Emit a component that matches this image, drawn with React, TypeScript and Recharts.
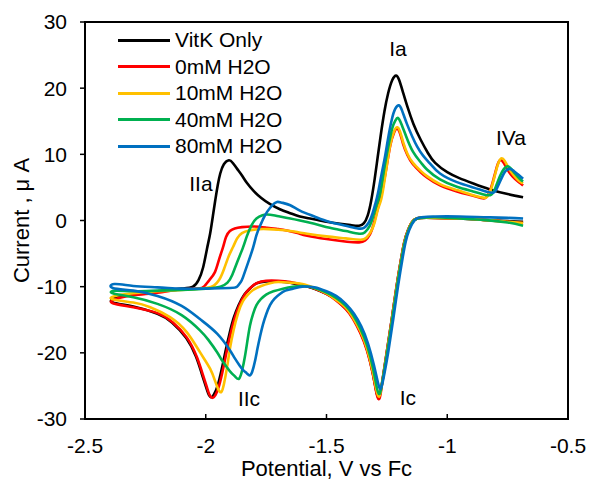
import React from "react";
import {
  LineChart,
  Line,
  XAxis,
  YAxis,
  Legend,
  ReferenceArea,
  ReferenceDot,
} from "recharts";

type Pt = [number, number]; // [potential V vs Fc, current µA]

// each sweep starts at the right, runs cathodic to -2.385 V, then back anodic
const vitkOnly: Pt[] = [
  [-0.686, -0.2], [-0.75, -0.1], [-0.85, 0.1], [-0.95, 0.3], [-1.05, 0.4], [-1.11, 0.4], [-1.14, 0.0],
  [-1.163, -1.5], [-1.178, -3.3], [-1.19, -5.6], [-1.21, -10.0], [-1.23, -15.0], [-1.25, -19.8],
  [-1.266, -23.6], [-1.277, -26.0], [-1.285, -26.8], [-1.295, -25.6], [-1.31, -22.8], [-1.332, -19.5],
  [-1.36, -16.8], [-1.39, -14.7], [-1.42, -13.3], [-1.46, -12.0], [-1.5, -11.1], [-1.55, -10.3],
  [-1.6, -9.8], [-1.65, -9.4], [-1.7, -9.2], [-1.75, -9.2], [-1.79, -9.5], [-1.815, -10.2],
  [-1.84, -11.2], [-1.864, -12.8], [-1.884, -14.7], [-1.901, -17.0], [-1.916, -19.4], [-1.934, -22.5],
  [-1.951, -25.0], [-1.966, -26.3], [-1.978, -26.7], [-1.99, -26.1], [-2.002, -24.8], [-2.017, -23.1],
  [-2.04, -20.6], [-2.08, -17.8], [-2.14, -15.4], [-2.2, -14.1], [-2.3, -13.0], [-2.385, -12.4],
  [-2.375, -11.7], [-2.3, -11.2], [-2.2, -10.7], [-2.1, -10.3], [-2.053, -10.0], [-2.03, -9.0],
  [-2.011, -7.1], [-1.995, -4.3], [-1.982, -2.0], [-1.97, 0.8], [-1.96, 3.2], [-1.95, 5.4],
  [-1.94, 7.1], [-1.925, 8.5], [-1.904, 9.1], [-1.888, 8.7], [-1.87, 7.8], [-1.85, 6.8],
  [-1.83, 5.7], [-1.8, 4.4], [-1.77, 3.4], [-1.735, 2.5], [-1.693, 1.7], [-1.65, 1.1], [-1.61, 0.6],
  [-1.568, 0.3], [-1.5, -0.2], [-1.444, -0.5], [-1.4, -0.7], [-1.365, -0.8], [-1.345, -0.4],
  [-1.33, 0.7], [-1.315, 3.0], [-1.3, 6.4], [-1.288, 9.6], [-1.275, 13.0], [-1.26, 16.5],
  [-1.245, 19.2], [-1.228, 21.2], [-1.212, 21.9], [-1.2, 21.3], [-1.185, 19.6], [-1.165, 17.2],
  [-1.14, 14.6], [-1.11, 12.2], [-1.08, 10.2], [-1.05, 8.7], [-1.0, 7.3], [-0.95, 6.4],
  [-0.893, 5.6], [-0.823, 4.7], [-0.75, 4.0], [-0.686, 3.5],
];

const water0: Pt[] = [
  [-0.686, -0.4], [-0.75, -0.2], [-0.85, 0.1], [-0.95, 0.3], [-1.05, 0.4], [-1.11, 0.4], [-1.14, 0.0],
  [-1.163, -1.5], [-1.178, -3.3], [-1.19, -5.6], [-1.21, -10.0], [-1.23, -15.0], [-1.25, -19.8],
  [-1.266, -23.7], [-1.276, -26.2], [-1.284, -27.0], [-1.294, -25.9], [-1.308, -23.2], [-1.332, -19.7],
  [-1.36, -17.0], [-1.39, -14.9], [-1.42, -13.4], [-1.46, -12.1], [-1.5, -11.1], [-1.55, -10.3],
  [-1.6, -9.7], [-1.65, -9.3], [-1.7, -9.1], [-1.75, -9.1], [-1.785, -9.4], [-1.81, -10.0],
  [-1.835, -11.0], [-1.858, -12.6], [-1.878, -14.5], [-1.895, -16.8], [-1.91, -19.2], [-1.928, -22.4],
  [-1.945, -25.0], [-1.96, -26.4], [-1.972, -26.8], [-1.985, -26.3], [-1.997, -25.0], [-2.012, -23.3],
  [-2.036, -20.7], [-2.078, -17.7], [-2.136, -15.4], [-2.2, -14.0], [-2.3, -13.1], [-2.385, -12.5],
  [-2.375, -11.9], [-2.3, -11.3], [-2.2, -10.9], [-2.1, -10.4], [-2.03, -10.3], [-2.005, -9.9],
  [-1.985, -9.0], [-1.962, -7.8], [-1.945, -5.9], [-1.929, -4.1], [-1.916, -2.5], [-1.9, -1.6],
  [-1.88, -1.2], [-1.85, -1.0], [-1.8, -0.9], [-1.746, -1.1], [-1.7, -1.3], [-1.664, -1.5],
  [-1.62, -1.9], [-1.58, -2.3], [-1.5, -2.8], [-1.415, -3.2], [-1.365, -3.3], [-1.34, -3.0],
  [-1.32, -2.1], [-1.305, -0.6], [-1.29, 1.5], [-1.276, 3.4], [-1.264, 5.5], [-1.25, 8.4],
  [-1.235, 11.5], [-1.22, 13.3], [-1.208, 13.9], [-1.195, 13.1], [-1.183, 11.6], [-1.165, 9.9],
  [-1.142, 8.5], [-1.11, 7.3], [-1.084, 6.5], [-1.03, 5.3], [-0.96, 4.4], [-0.9, 3.8], [-0.86, 3.4],
  [-0.842, 3.4], [-0.825, 4.3], [-0.808, 6.3], [-0.793, 8.3], [-0.782, 9.1], [-0.77, 8.9],
  [-0.755, 8.0], [-0.74, 7.1], [-0.72, 6.3], [-0.7, 5.7], [-0.686, 5.3],
];

const water10: Pt[] = [
  [-0.686, -0.4], [-0.75, -0.2], [-0.85, 0.1], [-0.95, 0.3], [-1.05, 0.4], [-1.11, 0.4], [-1.14, 0.0],
  [-1.162, -1.5], [-1.177, -3.3], [-1.189, -5.6], [-1.209, -10.0], [-1.229, -15.0], [-1.249, -19.8],
  [-1.265, -23.6], [-1.276, -25.9], [-1.284, -26.6], [-1.294, -25.5], [-1.308, -22.9], [-1.332, -19.4],
  [-1.36, -16.7], [-1.39, -14.7], [-1.42, -13.2], [-1.46, -12.0], [-1.5, -11.0], [-1.55, -10.2],
  [-1.6, -9.6], [-1.65, -9.4], [-1.7, -9.3], [-1.734, -9.5], [-1.77, -9.9], [-1.804, -10.5],
  [-1.825, -11.2], [-1.846, -12.2], [-1.866, -14.0], [-1.885, -16.6], [-1.9, -19.4], [-1.912, -22.2],
  [-1.924, -24.6], [-1.935, -25.9], [-1.947, -25.6], [-1.96, -24.4], [-1.982, -22.4], [-2.024, -19.9],
  [-2.078, -16.9], [-2.148, -14.6], [-2.23, -13.1], [-2.3, -12.4], [-2.385, -11.9],
  [-2.375, -11.4], [-2.3, -11.0], [-2.2, -10.7], [-2.1, -10.5], [-2.0, -10.2], [-1.965, -9.8],
  [-1.945, -9.0], [-1.925, -7.4], [-1.905, -5.4], [-1.887, -4.0], [-1.87, -2.7], [-1.85, -1.9],
  [-1.82, -1.5], [-1.78, -1.3], [-1.74, -1.3], [-1.7, -1.4], [-1.65, -1.6], [-1.58, -2.0],
  [-1.5, -2.4], [-1.42, -2.7], [-1.36, -2.9], [-1.335, -2.6], [-1.315, -1.6], [-1.3, -0.2],
  [-1.287, 1.7], [-1.275, 3.0], [-1.264, 5.0], [-1.25, 8.4], [-1.235, 11.6], [-1.22, 13.5],
  [-1.207, 14.1], [-1.195, 13.4], [-1.183, 11.9], [-1.165, 10.1], [-1.142, 8.7], [-1.11, 7.5],
  [-1.084, 6.7], [-1.03, 5.5], [-0.96, 4.6], [-0.9, 3.9], [-0.86, 3.5], [-0.838, 3.5], [-0.82, 4.6],
  [-0.803, 6.8], [-0.787, 8.8], [-0.774, 9.4], [-0.762, 9.0], [-0.748, 8.1], [-0.733, 7.2],
  [-0.715, 6.4], [-0.7, 5.9], [-0.686, 5.6],
];

const water40: Pt[] = [
  [-0.686, -0.8], [-0.75, -0.3], [-0.85, 0.1], [-0.95, 0.3], [-1.05, 0.5], [-1.11, 0.4], [-1.138, 0.0],
  [-1.161, -1.5], [-1.176, -3.3], [-1.188, -5.6], [-1.208, -10.0], [-1.228, -15.0], [-1.248, -19.8],
  [-1.264, -23.4], [-1.275, -25.6], [-1.283, -26.2], [-1.293, -25.0], [-1.307, -22.4], [-1.331, -19.0],
  [-1.36, -16.3], [-1.39, -14.3], [-1.42, -12.9], [-1.46, -11.7], [-1.5, -10.9], [-1.55, -10.2],
  [-1.6, -9.9], [-1.64, -10.0], [-1.68, -10.3], [-1.72, -10.7], [-1.75, -11.2], [-1.772, -11.9],
  [-1.79, -12.8], [-1.804, -14.1], [-1.817, -15.9], [-1.828, -18.3], [-1.838, -20.6], [-1.849, -22.6],
  [-1.862, -23.9], [-1.878, -23.6], [-1.895, -23.0], [-1.912, -22.2], [-1.935, -21.0], [-1.953, -19.9],
  [-1.99, -18.0], [-2.024, -16.6], [-2.1, -14.3], [-2.2, -12.6], [-2.3, -11.6], [-2.385, -11.0],
  [-2.375, -10.6], [-2.3, -10.7], [-2.2, -10.6], [-2.1, -10.5], [-2.0, -10.3], [-1.94, -10.0],
  [-1.91, -9.4], [-1.89, -8.2], [-1.87, -6.3], [-1.846, -4.1], [-1.83, -2.4], [-1.81, -0.7],
  [-1.79, 0.3], [-1.765, 0.8], [-1.746, 0.9], [-1.72, 0.8], [-1.693, 0.6], [-1.65, 0.3], [-1.61, 0.0],
  [-1.55, -0.5], [-1.486, -1.1], [-1.42, -1.6], [-1.365, -2.0], [-1.342, -1.8], [-1.322, -0.9],
  [-1.305, 0.8], [-1.29, 2.6], [-1.278, 4.1], [-1.262, 7.6], [-1.245, 11.0], [-1.228, 13.9],
  [-1.215, 15.1], [-1.204, 15.5], [-1.19, 14.6], [-1.17, 12.7], [-1.142, 10.4], [-1.11, 8.8],
  [-1.084, 7.7], [-1.03, 6.2], [-0.96, 5.1], [-0.893, 4.4], [-0.845, 3.9], [-0.818, 3.9], [-0.8, 5.0],
  [-0.782, 6.7], [-0.765, 7.8], [-0.752, 8.2], [-0.738, 7.9], [-0.72, 7.1], [-0.7, 6.3], [-0.686, 5.9],
];

const water80: Pt[] = [
  [-0.686, 0.3], [-0.75, 0.4], [-0.85, 0.5], [-0.95, 0.6], [-1.05, 0.6], [-1.108, 0.5], [-1.134, 0.1],
  [-1.157, -1.4], [-1.172, -3.2], [-1.184, -5.5], [-1.204, -10.0], [-1.224, -15.0], [-1.244, -19.8],
  [-1.26, -23.1], [-1.271, -25.0], [-1.279, -25.4], [-1.289, -24.2], [-1.304, -21.8], [-1.328, -18.6],
  [-1.356, -16.0], [-1.386, -14.1], [-1.42, -12.6], [-1.46, -11.4], [-1.5, -10.7], [-1.55, -10.1],
  [-1.6, -10.0], [-1.639, -10.3], [-1.67, -10.6], [-1.693, -11.1], [-1.715, -11.8], [-1.734, -12.8],
  [-1.75, -14.2], [-1.763, -15.7], [-1.775, -17.5], [-1.786, -19.4], [-1.797, -21.4], [-1.808, -22.9],
  [-1.818, -23.4], [-1.83, -23.1], [-1.845, -22.6], [-1.86, -21.9], [-1.88, -20.8], [-1.9, -19.6],
  [-1.953, -17.1], [-2.024, -14.9], [-2.1, -12.9], [-2.2, -11.4], [-2.3, -10.6], [-2.385, -10.2],
  [-2.378, -9.6], [-2.3, -9.9], [-2.2, -10.1], [-2.1, -10.3], [-2.0, -10.3], [-1.9, -10.2],
  [-1.87, -10.0], [-1.855, -9.3], [-1.846, -8.6], [-1.825, -6.4], [-1.804, -4.1], [-1.79, -2.2],
  [-1.775, -0.8], [-1.76, 0.4], [-1.746, 1.3], [-1.725, 2.3], [-1.705, 2.8], [-1.685, 2.7],
  [-1.65, 2.3], [-1.61, 1.5], [-1.55, 0.6], [-1.49, -0.2], [-1.42, -0.8], [-1.37, -1.2],
  [-1.345, -1.1], [-1.325, -0.3], [-1.31, 1.0], [-1.298, 2.5], [-1.287, 4.1], [-1.272, 7.0],
  [-1.258, 9.6], [-1.245, 12.4], [-1.23, 15.2], [-1.215, 16.9], [-1.2, 17.4], [-1.187, 16.6],
  [-1.167, 14.6], [-1.145, 12.7], [-1.125, 11.2], [-1.1, 9.8], [-1.071, 8.6], [-1.03, 7.1],
  [-0.96, 5.8], [-0.893, 5.0], [-0.84, 4.4], [-0.81, 4.2], [-0.795, 4.8], [-0.775, 6.4],
  [-0.758, 7.5], [-0.74, 7.8], [-0.725, 7.5], [-0.705, 6.9], [-0.686, 6.3],
];

const seriesNames = ["VitK Only", "0mM H2O", "10mM H2O", "40mM H2O", "80mM H2O"];
const seriesColors = ["#000000", "#ff0000", "#ffc000", "#00b050", "#0070c0"];
const seriesPoints = [vitkOnly, water0, water10, water40, water80];

const xTicks = [-2.5, -2, -1.5, -1, -0.5];
const yTicks = [-30, -20, -10, 0, 10, 20, 30];

// peak labels: text, potential, current
const peakNames = ["IIa", "Ia", "IVa", "IIc", "Ic"];
const peakPotentials = [-2.02, -1.204, -0.736, -1.821, -1.163];
const peakCurrents = [5.6, 26.0, 12.5, -26.9, -26.7];

const FONT = "'Liberation Sans', Arial, sans-serif";

const YTitle = (props: any) => {
  const vb = props.viewBox || { x: 0, y: 0, width: 0, height: 0 };
  const cx = vb.x + 21;
  const cy = vb.y + vb.height / 2;
  return (
    <text
      x={cx}
      y={cy}
      transform={`rotate(-90, ${cx}, ${cy})`}
      textAnchor="middle"
      dominantBaseline="central"
      fontFamily={FONT}
      fontSize={22}
      fill="#000"
    >
      Current , μ A
    </text>
  );
};

// keeps the series order instead of the alphabetical default
const LegendBox = (props: any) => {
  const items = [...(props.payload || [])].sort(
    (a: any, b: any) => seriesNames.indexOf(a.value) - seriesNames.indexOf(b.value)
  );
  return (
    <div style={{ fontFamily: FONT, fontSize: 21, color: "#000" }}>
      {items.map((it: any) => (
        <div
          key={it.value}
          style={{ display: "flex", alignItems: "center", height: 26.5 }}
        >
          <div
            style={{ width: 52, height: 3, background: it.color, marginRight: 5 }}
          />
          <span style={{ lineHeight: "26.5px" }}>{it.value}</span>
        </div>
      ))}
    </div>
  );
};

export default function App() {
  return (
    <div style={{ width: 590, height: 480 }}>
      <style>{"body{margin:0}"}</style>
      <LineChart
        width={590}
        height={480}
        margin={{ top: 22, right: 22, bottom: 11, left: 0 }}
      >
        <XAxis
          type="number"
          dataKey="v"
          domain={[-2.5, -0.5]}
          ticks={xTicks}
          allowDataOverflow
          tickFormatter={(v: number) => String(v)}
          tickSize={-5}
          tickMargin={24}
          height={50}
          axisLine={{ stroke: "#000", strokeWidth: 2 }}
          tickLine={{ stroke: "#000", strokeWidth: 1.5 }}
          tick={{ fill: "#000", fontSize: 21, fontFamily: FONT }}
          label={{
            value: "Potential, V vs Fc",
            position: "insideBottom",
            offset: -7,
            fill: "#000",
            fontSize: 22,
            fontFamily: FONT,
          }}
        />
        <YAxis
          type="number"
          domain={[-30, 30]}
          ticks={yTicks}
          allowDataOverflow
          width={85}
          tickSize={5}
          tickMargin={13}
          axisLine={{ stroke: "#000", strokeWidth: 2 }}
          tickLine={{ stroke: "#000", strokeWidth: 1.5 }}
          tick={{ fill: "#000", fontSize: 21, fontFamily: FONT }}
          label={<YTitle />}
        />
        <ReferenceArea
          x1={-2.5}
          x2={-0.5}
          y1={-30}
          y2={30}
          fill="none"
          fillOpacity={0}
          stroke="#000"
          strokeWidth={2}
          ifOverflow="visible"
        />
        {seriesPoints.map((pts, k) => (
          <Line
            key={seriesNames[k]}
            name={seriesNames[k]}
            data={pts.map(([v, i]) => ({ v, i }))}
            dataKey="i"
            type="natural"
            stroke={seriesColors[k]}
            strokeWidth={2.6}
            dot={false}
            activeDot={false}
            isAnimationActive={false}
          />
        ))}
        {peakNames.map((name, k) => (
          <ReferenceDot
            key={name}
            x={peakPotentials[k]}
            y={peakCurrents[k]}
            r={0}
            fill="none"
            stroke="none"
            label={{
              value: name,
              position: "center",
              fill: "#000",
              fontSize: 21,
              fontFamily: FONT,
            }}
          />
        ))}
        <Legend
          layout="vertical"
          align="center"
          verticalAlign="middle"
          wrapperStyle={{ left: 118, top: 27, width: 200 }}
          content={<LegendBox />}
        />
      </LineChart>
    </div>
  );
}
